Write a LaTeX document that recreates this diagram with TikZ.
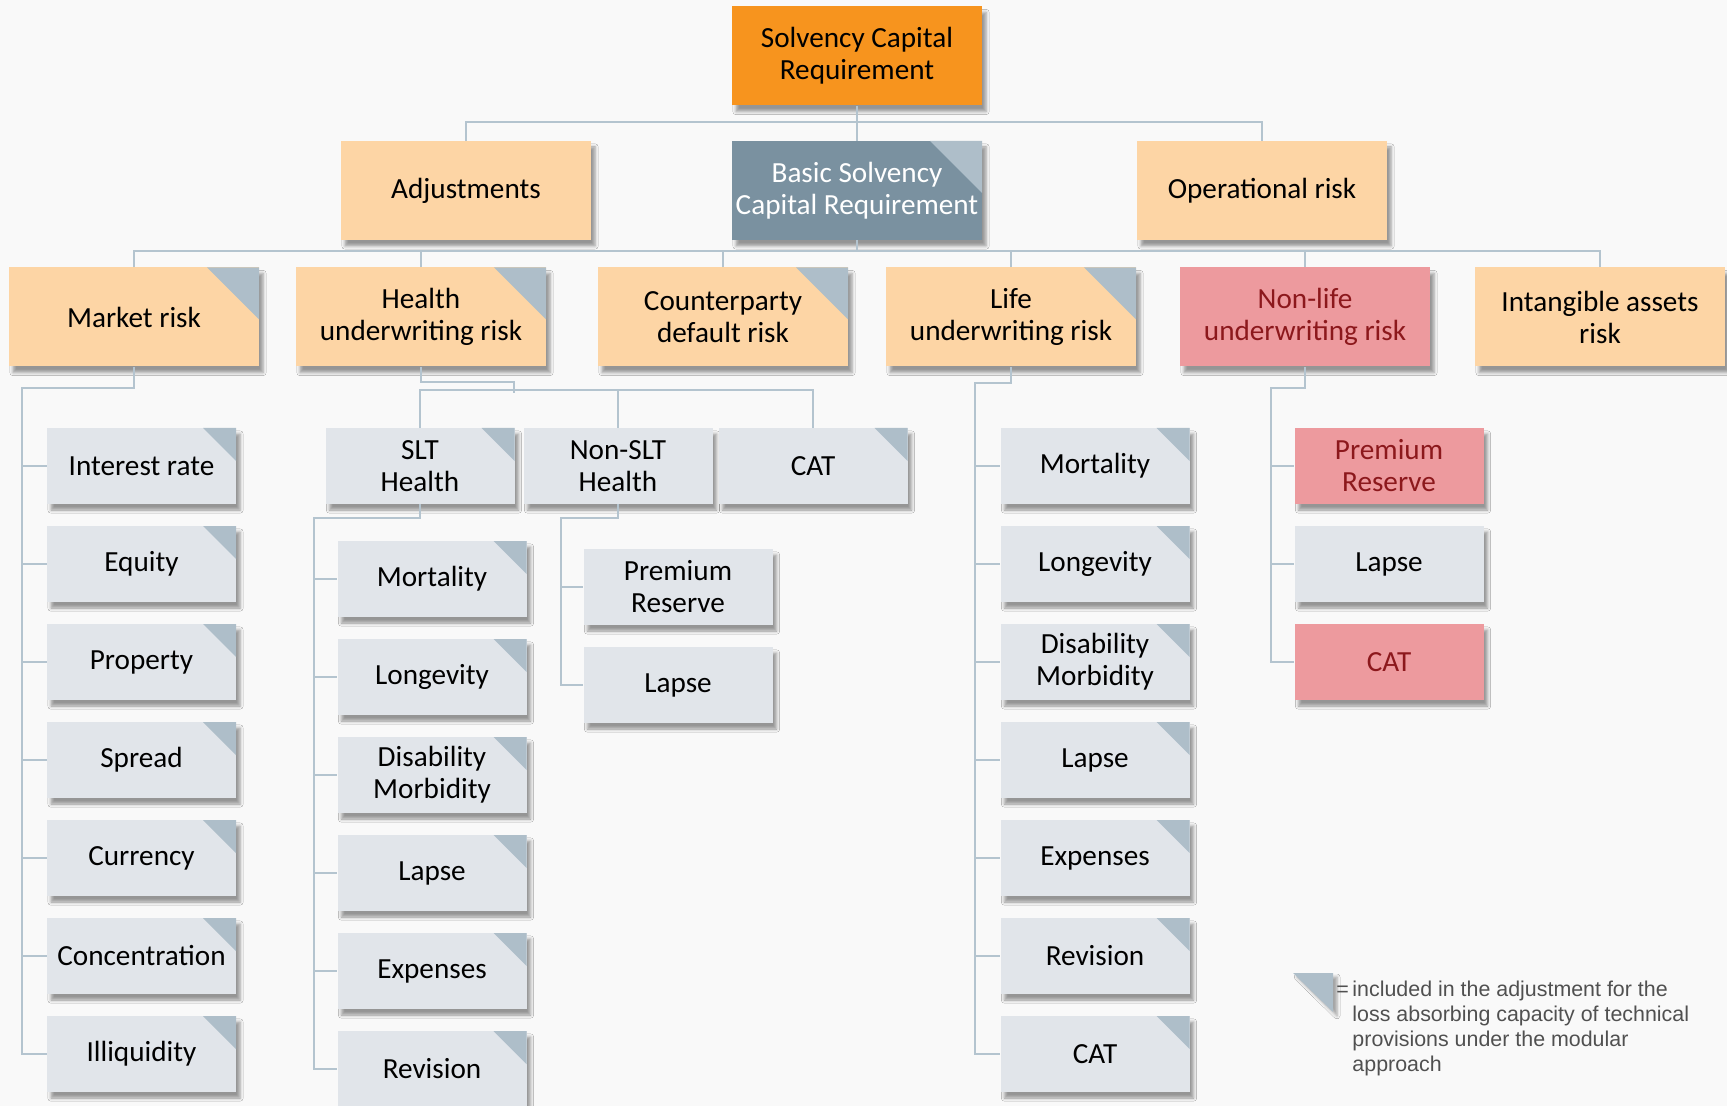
\documentclass[tikz,border=0pt]{standalone}
\usepackage{fontspec}
\setmainfont{Carlito}
\newfontfamily\legendfont{Liberation Sans}
\usetikzlibrary{shadows.blur}

\definecolor{scrorange}{RGB}{247,148,30}
\definecolor{riskorange}{RGB}{253,213,165}
\definecolor{bscrblue}{RGB}{122,145,160}
\definecolor{leafgray}{RGB}{225,229,234}
\definecolor{cornerblue}{RGB}{174,190,201}
\definecolor{nlred}{RGB}{237,154,158}
\definecolor{nltext}{RGB}{140,24,28}
\definecolor{linecol}{RGB}{180,196,207}
\definecolor{bgcol}{RGB}{249,249,249}
\definecolor{legendgray}{RGB}{80,80,80}

\begin{document}
\begin{tikzpicture}[x=0.5pt, y=-0.5pt,
  box/.style={rectangle, inner sep=0pt, align=center, font=\fontsize{14.6}{16}\selectfont,
    blur shadow={shadow xshift=2pt, shadow yshift=-3pt, shadow blur radius=1.6pt, shadow opacity=40}},
  big/.style={box, minimum width=125pt, minimum height=49.5pt},
  leaf/.style={box, minimum width=94.5pt, minimum height=38pt, fill=leafgray},
  corner/.style={path picture={\fill[cornerblue] (path picture bounding box.north east) -- ++(-#1,0pt) -- ++(#1,-#1) -- cycle;}},
  bigc/.style={corner=26pt},
  leafc/.style={corner=16.5pt},
  risk/.style={big, fill=riskorange},
  nonlifebox/.style={fill=nlred, text=nltext},
  conn/.style={draw=linecol, line width=1pt}]
\useasboundingbox (0,0) rectangle (1727,1106);
\fill[bgcol] (0,0) rectangle (1727,1106);

% top levels
\node[big, fill=scrorange] (scr) at (857,56) {Solvency Capital\\Requirement};
\node[risk] (adj) at (466,190.5) {Adjustments};
\node[big, bigc, fill=bscrblue, text=white] (bscr) at (857,190.5) {Basic Solvency\\Capital Requirement};
\node[risk] (oprisk) at (1262,190.5) {Operational risk};

\node[risk, bigc] (mkt) at (134,317) {Market risk};
\node[risk, bigc] (hlth) at (421,317) {Health\\underwriting risk};
\node[risk, bigc] (cpty) at (723,317) {Counterparty\\default risk};
\node[risk, bigc] (life) at (1011,317) {Life\\underwriting risk};
\node[big, nonlifebox] (nonlife) at (1305,317) {Non-life\\underwriting risk};
\node[risk] (intang) at (1600,317) {Intangible assets\\risk};

% market
\foreach \t [count=\i] in {Interest rate, Equity, Property, Spread, Currency, Concentration, Illiquidity}
  \node[leaf, leafc] (mkt\i) at (141.5,{466+98*(\i-1)}) {\t};

% health
\node[leaf, leafc] (slt) at (420,466) {SLT\\Health};
\node[leaf] (nslt) at (618,466) {Non-SLT\\Health};
\node[leaf, leafc] (hcat) at (813,466) {CAT};
\foreach \t [count=\i] in {Mortality, Longevity, {Disability\\Morbidity}, Lapse, Expenses, Revision}
  \node[leaf, leafc] (slt\i) at (432,{579+98*(\i-1)}) {\t};
\node[leaf] (nslt1) at (678,587) {Premium\\Reserve};
\node[leaf] (nslt2) at (678,685) {Lapse};

% life
\foreach \t [count=\i] in {Mortality, Longevity, {Disability\\Morbidity}, Lapse, Expenses, Revision, CAT}
  \node[leaf, leafc] (life\i) at (1095,{466+98*(\i-1)}) {\t};

% non-life
\node[leaf, nonlifebox] (nl1) at (1389,466) {Premium\\Reserve};
\node[leaf] (nl2) at (1389,564) {Lapse};
\node[leaf, nonlifebox] (nl3) at (1389,662) {CAT};

% connectors
\draw[conn] (scr.south) -- (bscr.north);
\draw[conn] (adj.north) -- ++(0,-19) -| (oprisk.north);
\draw[conn] (bscr.south) -- ++(0,12);
\draw[conn] (mkt.north) -- ++(0,-16) -| (intang.north);
\foreach \n in {hlth,cpty,life,nonlife}
  \draw[conn] (\n.north) -- ++(0,-16);

\coordinate (mktbus) at (22,388);
\foreach \i in {1,...,7}
  \draw[conn] (mkt.south) |- (mktbus) |- (mkt\i.west);

\coordinate (hjoin) at (514,393);
\draw[conn] (hlth.south) -- ++(0,15) -| (hjoin);
\draw[conn] (slt.north) -- ++(0,-38) -| (hcat.north);
\draw[conn] (nslt.north) -- ++(0,-38);

\coordinate (sltbus) at (314,518);
\foreach \i in {1,...,6}
  \draw[conn] (slt.south) |- (sltbus) |- (slt\i.west);
\coordinate (nsltbus) at (561,518);
\foreach \i in {1,2}
  \draw[conn] (nslt.south) |- (nsltbus) |- (nslt\i.west);

\coordinate (lifebus) at (975,383);
\foreach \i in {1,...,7}
  \draw[conn] (life.south) |- (lifebus) |- (life\i.west);

\coordinate (nlbus) at (1271,388);
\foreach \i in {1,2,3}
  \draw[conn] (nonlife.south) |- (nlbus) |- (nl\i.west);

% legend
\fill[cornerblue, blur shadow={shadow xshift=2pt, shadow yshift=-2pt, shadow blur radius=1.5pt, shadow opacity=35}]
  (1293,973) -- (1333,973) -- (1333,1012) -- cycle;
\node[anchor=north west, inner sep=0pt, text=legendgray, font=\legendfont\fontsize{10.7}{12.6}\selectfont] (legend) at (1336,978)
  {\begin{tabular}{@{}l@{\,}l@{}}=&included in the adjustment for the\\&loss absorbing capacity of technical\\&provisions under the modular\\&approach\end{tabular}};
\end{tikzpicture}
\end{document}
